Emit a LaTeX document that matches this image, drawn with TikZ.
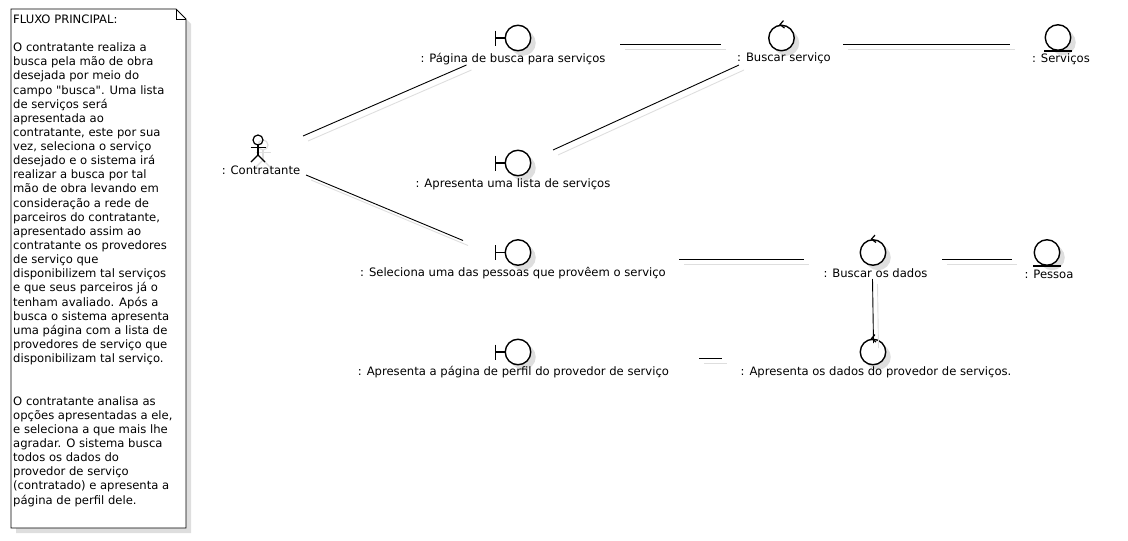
\documentclass[tikz,border=0pt]{standalone}
\usepackage{fontspec}
\newfontfamily\diagfont{DejaVu Sans}
\usetikzlibrary{shadows}
\definecolor{shadowgray}{gray}{0.87}

\tikzset{
    icon/.style={circle, draw, line width=1.4pt, fill=white, minimum size=25.5pt, inner sep=0pt,
        drop shadow={shadow xshift=5pt, shadow yshift=-5pt, opacity=1, fill=shadowgray}},
    stroke/.style={line width=1.2pt},
    lbl/.style={inner sep=0pt, font=\diagfont\fontsize{11.6}{14}\selectfont},
    assoc/.style={line width=0.9pt},
    assocshadow/.style={shadowgray, line width=0.9pt}
}

% line with its grey copy
\newcommand{\assocline}[2]{
    \draw[assocshadow] ([shift={(5,5)}]#1) -- ([shift={(5,5)}]#2);
    \draw[assoc] (#1) -- (#2);
}

\begin{document}
\begin{tikzpicture}[x=1pt, y=-1pt]
            \useasboundingbox (0,0) rectangle (1128,541);

            % note
            \fill[shadowgray] (16,14) -- (181,14) -- (191,24) -- (191,533) -- (16,533) -- cycle;
            \draw[fill=white, line width=0.9pt] (11,9) -- (176,9) -- (186,19) -- (186,528) -- (11,528) -- cycle;
            \draw[line width=0.9pt] (176,9) -- (176,19) -- (186,19);
            \node (note) [anchor=north west, inner sep=0pt, align=left, font=\diagfont\fontsize{11.6}{14.14}\selectfont] at (13,14.5) {%
                FLUXO PRINCIPAL:\\[14.14pt]
                O contratante realiza a\\
                busca pela mão de obra\\
                desejada por meio do\\
                campo "busca". Uma lista\\
                de serviços será\\
                apresentada ao\\
                contratante, este por sua\\
                vez, seleciona o serviço\\
                desejado e o sistema irá\\
                realizar a busca por tal\\
                mão de obra levando em\\
                consideração a rede de\\
                parceiros do contratante,\\
                apresentado assim ao\\
                contratante os provedores\\
                de serviço que\\
                disponibilizem tal serviços\\
                e que seus parceiros já o\\
                tenham avaliado. Após a\\
                busca o sistema apresenta\\
                uma página com a lista de\\
                provedores de serviço que\\
                disponibilizam tal serviço.\\[28.28pt]
                O contratante analisa as\\
                opções apresentadas a ele,\\
                e seleciona a que mais lhe\\
                agradar. O sistema busca\\
                todos os dados do\\
                provedor de serviço\\
                (contratado) e apresenta a\\
                página de perfil dele.};

            % actor
            \foreach \dx/\col in {5/shadowgray,0/black} {
                \begin{scope}[shift={(\dx,\dx)}, \col, stroke]
                    \draw (258,140) circle (5);
                    \draw (258,145) -- (258,155);
                    \draw (250.5,147.5) -- (266,147.5);
                    \draw (251,162) -- (258,155) -- (265,162);
                \end{scope}
            }
            \node (contratante) [lbl] at (261,170) {: Contratante};

            % boundaries
            \node (pagina) [icon] at (518,38) {};
            \node (lista) [icon] at (518,163) {};
            \node (seleciona) [icon] at (518,252.5) {};
            \node (perfil) [icon] at (518,352) {};
            \foreach \n in {pagina,lista,seleciona,perfil} {
                \draw[stroke] (\n.west) -- ++(-9,0) ++(0,-7.5) -- ++(0,15);
            }

            % controls
            \node (buscar) [icon] at (781.5,38) {};
            \node (dados) [icon] at (873,252.5) {};
            \node (provedor) [icon] at (873,352) {};
            \foreach \n in {buscar,dados,provedor} {
                \draw[stroke] ([shift={(2,-4)}]\n.north) -- ([shift={(-1.5,0)}]\n.north) -- ([shift={(3,3.5)}]\n.north);
            }

            % entities
            \node (servicos) [icon] at (1058,37.5) {};
            \node (pessoa) [icon] at (1047,252.5) {};
            \foreach \n in {servicos,pessoa} {
                \draw[stroke] ([shift={(-14,0)}]\n.south) -- ([shift={(14,0)}]\n.south);
            }

            % labels
            \node (paginalbl) [lbl] at (513,59.5) {: Página de busca para serviços};
            \node (listalbl) [lbl] at (513,184) {: Apresenta uma lista de serviços};
            \node (selecionalbl) [lbl] at (513,273.5) {: Seleciona uma das pessoas que provêem o serviço};
            \node (perfillbl) [lbl] at (513.5,372.5) {: Apresenta a página de perfil do provedor de serviço};
            \node (buscarlbl) [lbl] at (784,58.5) {: Buscar serviço};
            \node (dadoslbl) [lbl] at (875.5,273.5) {: Buscar os dados};
            \node (provedorlbl) [lbl] at (876,372.5) {: Apresenta os dados do provedor de serviços.};
            \node (servicoslbl) [lbl] at (1061,59) {: Serviços};
            \node (pessoalbl) [lbl] at (1049,274) {: Pessoa};

            % connector ends
            \coordinate (a1) at (303,136);
            \coordinate (a2) at (466.5,65);
            \coordinate (b1) at (306,175);
            \coordinate (b2) at (463,240.5);
            \coordinate (c1) at (620,44);
            \coordinate (c2) at (721,44);
            \coordinate (d1) at (843,44);
            \coordinate (d2) at (1010,44);
            \coordinate (e1) at (553,150);
            \coordinate (e2) at (739,65);
            \coordinate (f1) at (679,259.5);
            \coordinate (f2) at (804,259.5);
            \coordinate (g1) at (942,259.5);
            \coordinate (g2) at (1012,259.5);
            \coordinate (h1) at (872.5,279);
            \coordinate (h2) at (873.5,343);
            \coordinate (i1) at (699,358);
            \coordinate (i2) at (721.5,358);
            \foreach \p/\q in {a1/a2,b1/b2,c1/c2,d1/d2,e1/e2,f1/f2,g1/g2,h1/h2,i1/i2} {
                \assocline{\p}{\q}
            }
\end{tikzpicture}
\end{document}
